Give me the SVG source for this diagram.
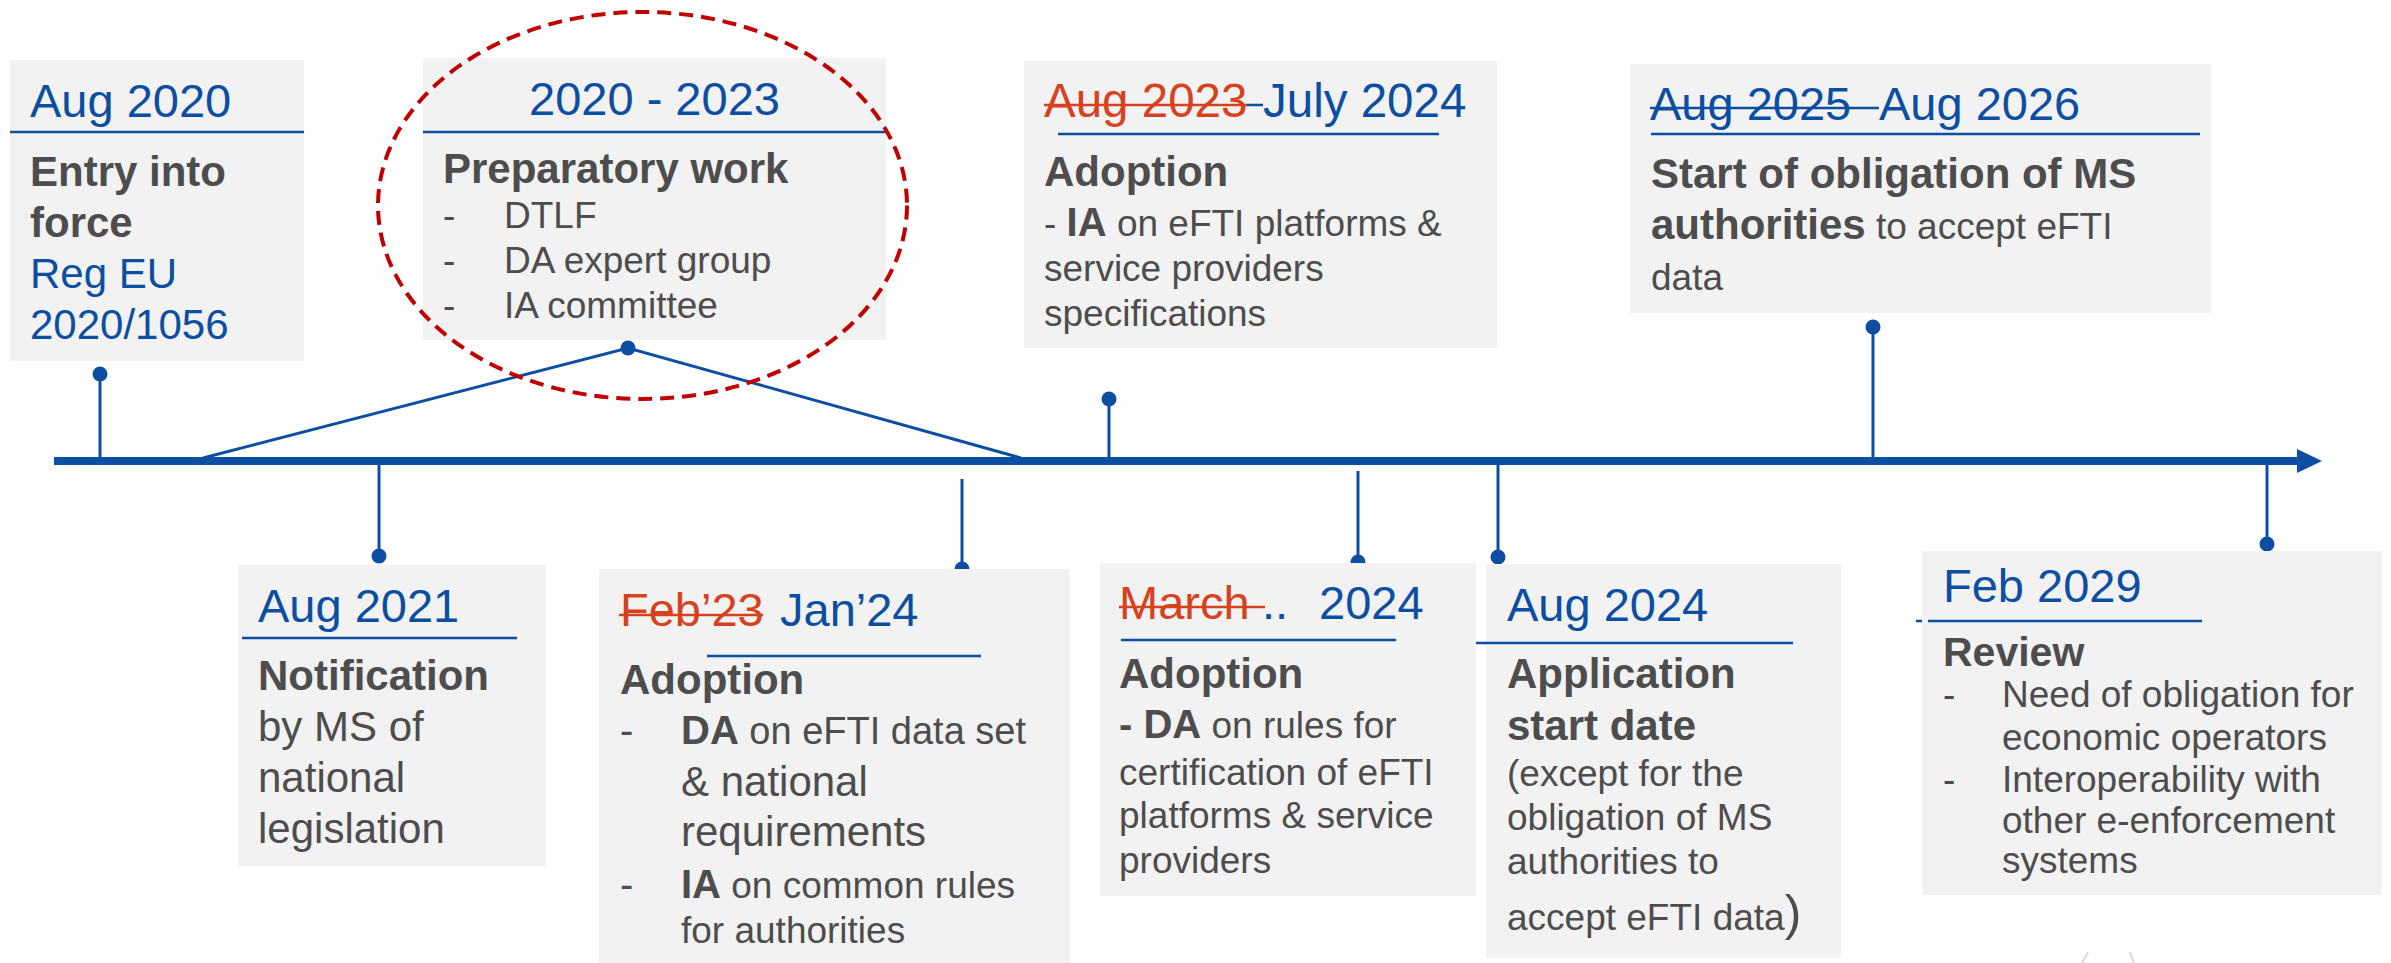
<svg xmlns="http://www.w3.org/2000/svg" width="2391" height="963" viewBox="0 0 2391 963">
<style>
text{font-family:"Liberation Sans",Arial,sans-serif;}
.box{fill:#F2F2F2;}
.hd{fill:#0B4EA2;font-size:47px;}
.red{fill:#D6411E;}
.bold{font-weight:bold;fill:#4D4D4D;}
.t{fill:#4D4D4D;}
.uline{stroke:#0B4EA2;stroke-width:2.5;}
.strike{stroke-width:2.5;}
.stem{stroke:#0B4EA2;stroke-width:3;fill:none;}
.dot{fill:#0B4EA2;}
</style>

<g id="connectors">
<line x1="54" y1="461" x2="2300" y2="461" stroke="#0B4EA2" stroke-width="8"/>
<polygon points="2297,449 2322,461 2297,473" fill="#0B4EA2"/>
<line class="stem" x1="100" y1="374" x2="100" y2="458"/>
<circle class="dot" cx="100" cy="374" r="7.5"/>
<polyline class="stem" points="203,458 628,348 1021,458"/>
<circle class="dot" cx="628" cy="348" r="7.5"/>
<line class="stem" x1="379" y1="464" x2="379" y2="556"/>
<circle class="dot" cx="379" cy="556" r="7.5"/>
<line class="stem" x1="962" y1="479" x2="962" y2="569"/>
<circle class="dot" cx="962" cy="569" r="7.5"/>
<line class="stem" x1="1109" y1="399" x2="1109" y2="458"/>
<circle class="dot" cx="1109" cy="399" r="7.5"/>
<line class="stem" x1="1358" y1="471" x2="1358" y2="562"/>
<circle class="dot" cx="1358" cy="562" r="7.5"/>
<line class="stem" x1="1498" y1="464" x2="1498" y2="557"/>
<circle class="dot" cx="1498" cy="557" r="7.5"/>
<line class="stem" x1="1873" y1="327" x2="1873" y2="458"/>
<circle class="dot" cx="1873" cy="327" r="7.5"/>
<line class="stem" x1="2267" y1="464" x2="2267" y2="544"/>
<circle class="dot" cx="2267" cy="544" r="7.5"/>
</g>

<g id="aug2020">
<rect class="box" x="10" y="60" width="294" height="301"/>
<text class="hd" x="30" y="117">Aug 2020</text>
<line class="uline" x1="10" y1="132" x2="304" y2="132"/>
<text class="bold" x="30" y="186" font-size="42">Entry into</text>
<text class="bold" x="30" y="237" font-size="42">force</text>
<text class="hd" x="30" y="288" style="font-size:42px">Reg EU</text>
<text class="hd" x="30" y="339" style="font-size:42px">2020/1056</text>
</g>

<g id="prep2020_2023">
<rect class="box" x="423" y="58" width="463" height="282"/>
<text class="hd" x="654.5" y="115" text-anchor="middle">2020 - 2023</text>
<line class="uline" x1="423" y1="132" x2="886" y2="132"/>
<text class="bold" x="443" y="183" font-size="42">Preparatory work</text>
<g class="t" font-size="37">
<text x="443" y="228">-</text><text x="504" y="228">DTLF</text>
<text x="443" y="273">-</text><text x="504" y="273">DA expert group</text>
<text x="443" y="318">-</text><text x="504" y="318">IA committee</text>
</g>
<ellipse cx="642.5" cy="205.5" rx="264.5" ry="193.5" fill="none" stroke="#C00000" stroke-width="4" stroke-dasharray="14 8"/>
</g>

<g id="july2024">
<rect class="box" x="1024" y="61" width="473" height="287"/>
<text class="hd red" x="1044" y="117" style="font-size:47.5px">Aug 2023</text>
<text class="hd" x="1263" y="117" style="font-size:47.5px">July 2024</text>
<line class="strike" stroke="#D6411E" x1="1044" y1="105" x2="1247" y2="105"/>
<line class="strike" stroke="#0B4EA2" x1="1247" y1="105" x2="1263" y2="105"/>
<line class="uline" x1="1058" y1="134" x2="1439" y2="134"/>
<text class="bold" x="1044" y="186" font-size="42">Adoption</text>
<text class="t" x="1044" y="236" font-size="37">- <tspan font-weight="bold" font-size="40">IA</tspan> on eFTI platforms &amp;</text>
<text class="t" x="1044" y="281" font-size="37">service providers</text>
<text class="t" x="1044" y="326" font-size="37">specifications</text>
</g>

<g id="aug2026">
<rect class="box" x="1630" y="64" width="581" height="249"/>
<text class="hd" x="1650" y="120">Aug 2025</text>
<text class="hd" x="1879" y="120">Aug 2026</text>
<line class="strike" stroke="#0B4EA2" x1="1650" y1="108" x2="1879" y2="108"/>
<line class="uline" x1="1651" y1="134" x2="2200" y2="134"/>
<text class="bold" x="1651" y="188" font-size="42">Start of obligation of MS</text>
<text class="t" x="1651" y="239" font-size="37"><tspan font-weight="bold" font-size="42">authorities</tspan> to accept eFTI</text>
<text class="t" x="1651" y="290" font-size="37">data</text>
</g>

<g id="aug2021">
<rect class="box" x="238" y="565" width="308" height="301"/>
<text class="hd" x="258" y="622">Aug 2021</text>
<line class="uline" x1="242" y1="638" x2="517" y2="638"/>
<text class="bold" x="258" y="690" font-size="42">Notification</text>
<text class="t" x="258" y="741" font-size="42">by MS of</text>
<text class="t" x="258" y="792" font-size="42">national</text>
<text class="t" x="258" y="843" font-size="42">legislation</text>
</g>

<g id="jan2024">
<rect class="box" x="599" y="569" width="471" height="394"/>
<text class="hd red" x="620" y="626">Feb’23</text>
<text class="hd" x="780" y="626">Jan’24</text>
<line class="strike" stroke="#D6411E" x1="619" y1="615" x2="763" y2="615"/>
<line class="uline" x1="707" y1="656" x2="981" y2="656"/>
<text class="bold" x="620" y="694" font-size="42">Adoption</text>
<text class="t" x="620" y="744" font-size="40">-</text>
<text class="t" x="681" y="744" font-size="38"><tspan font-weight="bold" font-size="40">DA</tspan> on eFTI data set</text>
<text class="t" x="681" y="796" font-size="42">&amp; national</text>
<text class="t" x="681" y="846" font-size="42">requirements</text>
<text class="t" x="620" y="898" font-size="40">-</text>
<text class="t" x="681" y="898" font-size="37"><tspan font-weight="bold" font-size="40">IA</tspan> on common rules</text>
<text class="t" x="681" y="943" font-size="37">for authorities</text>
</g>

<g id="march2024">
<rect class="box" x="1100" y="563" width="376" height="333"/>
<text class="hd red" x="1119" y="619">March</text>
<text class="hd" x="1262" y="619">..</text>
<text class="hd" x="1319" y="619">2024</text>
<line class="strike" stroke="#D6411E" x1="1119" y1="607" x2="1265" y2="607"/>
<line class="uline" x1="1121" y1="640" x2="1396" y2="640"/>
<text class="bold" x="1119" y="688" font-size="42">Adoption</text>
<text class="t" x="1119" y="738" font-size="37"><tspan font-weight="bold" font-size="40">- DA</tspan> on rules for</text>
<text class="t" x="1119" y="785" font-size="37">certification of eFTI</text>
<text class="t" x="1119" y="828" font-size="37">platforms &amp; service</text>
<text class="t" x="1119" y="873" font-size="37">providers</text>
</g>

<g id="aug2024">
<rect class="box" x="1486" y="564" width="355" height="394"/>
<text class="hd" x="1507" y="621">Aug 2024</text>
<line class="uline" x1="1476" y1="643" x2="1793" y2="643"/>
<text class="bold" x="1507" y="688" font-size="42">Application</text>
<text class="bold" x="1507" y="740" font-size="42">start date</text>
<text class="t" x="1507" y="786" font-size="37">(except for the</text>
<text class="t" x="1507" y="830" font-size="37">obligation of MS</text>
<text class="t" x="1507" y="874" font-size="37">authorities to</text>
<text class="t" x="1507" y="930" font-size="37">accept eFTI data<tspan font-size="50">)</tspan></text>
</g>

<g id="feb2029">
<rect class="box" x="1922" y="551" width="460" height="344"/>
<text class="hd" x="1943" y="602">Feb 2029</text>
<line class="uline" x1="1928" y1="621" x2="2202" y2="621"/>
<line class="uline" x1="1916" y1="621" x2="1922" y2="621"/>
<text class="bold" x="1943" y="666" font-size="41">Review</text>
<g class="t" font-size="37">
<text x="1943" y="707">-</text><text x="2002" y="707">Need of obligation for</text>
<text x="2002" y="750">economic operators</text>
<text x="1943" y="792">-</text><text x="2002" y="792">Interoperability with</text>
<text x="2002" y="833">other e-enforcement</text>
<text x="2002" y="873">systems</text>
</g>
</g>

<g id="marks">
<line x1="2082" y1="963" x2="2088" y2="952" stroke="#D9D9D9" stroke-width="2"/>
<line x1="2130" y1="952" x2="2134" y2="963" stroke="#D9D9D9" stroke-width="2"/>
</g>
</svg>
